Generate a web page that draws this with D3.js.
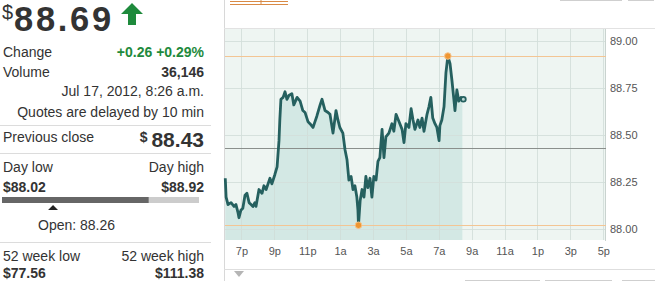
<!DOCTYPE html>
<html>
<head>
<meta charset="utf-8">
<script src="https://cdn.jsdelivr.net/npm/d3@7"></script>
<style>
  body { margin: 0; background: #fff; }
  svg { display: block; font-family: Arial, "Liberation Sans", sans-serif; }
</style>
</head>
<body>
<div id="chart"></div>
<script>
// intraday quotes, Jul 16 6pm -> Jul 17 8:26am
const times = [
  "18:01", "18:04", "18:11", "18:22", "18:33", "18:40", "18:47", "18:51", "18:58", "19:05",
  "19:13", "19:20", "19:28", "19:35", "19:42", "19:49", "19:53", "20:04", "20:15", "20:22",
  "20:30", "20:37", "20:44", "20:51", "21:02", "21:10", "21:17", "21:20", "21:24", "21:32",
  "21:39", "21:46", "21:53", "22:04", "22:11", "22:23", "22:34", "22:44", "22:52", "23:03",
  "23:10", "23:21", "23:28", "23:35", "23:47", "23:54", "00:05", "00:16", "00:23", "00:34",
  "00:45", "00:52", "00:59", "01:10", "01:18", "01:25", "01:32", "01:40", "01:47", "01:54",
  "02:01", "02:05", "02:07", "02:13", "02:20", "02:27", "02:34", "02:41", "02:49", "02:56",
  "03:03", "03:11", "03:18", "03:25", "03:33", "03:40", "03:47", "03:58", "04:09", "04:16",
  "04:24", "04:35", "04:46", "04:53", "05:00", "05:11", "05:19", "05:26", "05:33", "05:44",
  "05:51", "05:59", "06:06", "06:17", "06:24", "06:31", "06:38", "06:46", "06:53", "07:01",
  "07:04", "07:11", "07:19", "07:26", "07:33", "07:41", "07:48", "07:55", "07:59", "08:06",
  "08:13", "08:21", "08:26"
];
const prices = [
  88.27, 88.17, 88.13, 88.14, 88.12, 88.13, 88.09, 88.06, 88.10, 88.11,
  88.18, 88.19, 88.14, 88.13, 88.12, 88.14, 88.12, 88.21, 88.19, 88.23,
  88.21, 88.24, 88.27, 88.24, 88.29, 88.33, 88.47, 88.58, 88.69, 88.70,
  88.73, 88.69, 88.71, 88.72, 88.66, 88.70, 88.68, 88.63, 88.62, 88.57,
  88.56, 88.54, 88.57, 88.60, 88.66, 88.69, 88.63, 88.62, 88.61, 88.51,
  88.63, 88.58, 88.54, 88.51, 88.42, 88.37, 88.26, 88.28, 88.21, 88.23,
  88.17, 88.10, 88.02, 88.15, 88.21, 88.17, 88.28, 88.22, 88.27, 88.17,
  88.28, 88.26, 88.36, 88.38, 88.53, 88.38, 88.49, 88.51, 88.56, 88.52,
  88.61, 88.57, 88.53, 88.46, 88.56, 88.54, 88.64, 88.58, 88.53, 88.58,
  88.54, 88.59, 88.52, 88.61, 88.65, 88.70, 88.59, 88.56, 88.54, 88.47,
  88.55, 88.58, 88.65, 88.83, 88.92, 88.88, 88.79, 88.69, 88.63, 88.74,
  88.68, 88.70, 88.69
];
const priceTicks = [88.00, 88.25, 88.50, 88.75, 89.00];
const tickLabels = ["7p", "9p", "11p", "1a", "3a", "5a", "7a", "9a", "11a", "1p", "3p", "5p"];

const lastPrice = 88.69, prevClose = 88.43, openPrice = 88.26;
const dayLow = 88.02, dayHigh = 88.92;

const W = 671, H = 281;
const dark = "#333", green = "#1e8a3c";

const parse = (s) => {
  const [h, m] = s.split(":").map(Number);
  return new Date(2012, 6, h >= 18 ? 16 : 17, h, m);
};
const data = times.map((t, i) => ({ date: parse(t), price: prices[i] }));

const svg = d3.select("#chart").append("svg")
  .attr("width", W)
  .attr("height", H);

// ---------- left quote panel ----------
const left = svg.append("g");
const rx = 204;

left.append("text").attr("x", 2).attr("y", 19).attr("font-size", 20).attr("fill", dark).text("$");
left.append("text").attr("x", 14).attr("y", 31).attr("font-size", 34.5).attr("font-weight", "bold")
  .attr("fill", dark).attr("letter-spacing", 2.7).text(lastPrice.toFixed(2));
left.append("path")
  .attr("d", "M132,3 L143,14 L136,14 L136,25 L128,25 L128,14 L121,14 Z")
  .attr("fill", green);

function row(y, l, r, opts = {}) {
  if (l) left.append("text").attr("x", opts.lx ?? 3).attr("y", y).attr("font-size", 14)
    .attr("fill", dark).text(l);
  if (r) left.append("text").attr("x", rx).attr("y", y).attr("font-size", 14)
    .attr("text-anchor", "end").attr("font-weight", opts.bold ? "bold" : null)
    .attr("fill", opts.color ?? dark).text(r);
}
function sep(y) {
  left.append("line").attr("x1", 0).attr("x2", 211).attr("y1", y + 0.5).attr("y2", y + 0.5)
    .attr("stroke", "#dcdcdc");
}

row(57, "Change", "+0.26 +0.29%", { bold: true, color: green });
row(77, "Volume", "36,146", { bold: true });
row(96, null, "Jul 17, 2012, 8:26 a.m.");
row(117, null, "Quotes are delayed by 10 min");
sep(125);

row(142, "Previous close", null);
left.append("text").attr("x", rx).attr("y", 147).attr("text-anchor", "end")
  .attr("fill", dark).attr("font-weight", "bold")
  .call((t) => {
    t.append("tspan").attr("font-size", 14).attr("dy", -5).text("$ ");
    t.append("tspan").attr("font-size", 21).attr("dy", 5).text(prevClose.toFixed(2));
  });
sep(153);

row(172, "Day low", "Day high");
left.append("text").attr("x", 3).attr("y", 192).attr("font-size", 14).attr("font-weight", "bold")
  .attr("fill", dark).text("$" + dayLow.toFixed(2));
row(192, null, "$" + dayHigh.toFixed(2), { bold: true });

// day range bar
const rangeX = d3.scaleLinear([dayLow, dayHigh], [2, 199]);
left.append("rect").attr("x", rangeX(dayLow)).attr("y", 197)
  .attr("width", rangeX(dayHigh) - rangeX(dayLow)).attr("height", 6).attr("fill", "#cccccc");
left.append("rect").attr("x", rangeX(dayLow)).attr("y", 197)
  .attr("width", rangeX(lastPrice) - rangeX(dayLow)).attr("height", 6).attr("fill", "#666666");
const ox = rangeX(openPrice) - 1.5;
left.append("path").attr("d", `M${ox - 5},210 L${ox + 5},210 L${ox},205 Z`).attr("fill", "#222");
row(230, "Open: " + openPrice.toFixed(2), null, { lx: 38 });
sep(242);

row(261, "52 week low", "52 week high");
left.append("text").attr("x", 3).attr("y", 278).attr("font-size", 14).attr("font-weight", "bold")
  .attr("fill", dark).text("$77.56");
row(278, null, "$111.38", { bold: true });

// ---------- chart panel frame ----------
const frame = svg.append("g");
frame.append("line").attr("x1", 224.5).attr("x2", 224.5).attr("y1", 0).attr("y2", H).attr("stroke", "#d8d8d8");
frame.append("line").attr("x1", 224).attr("x2", 655).attr("y1", 28.5).attr("y2", 28.5).attr("stroke", "#e2e2e2");
frame.append("line").attr("x1", 224).attr("x2", 655).attr("y1", 269.5).attr("y2", 269.5).attr("stroke", "#dedede");
frame.append("path").attr("d", "M234,271 L244,271 L239,277 Z").attr("fill", "#b5b5b5");
// cut off legend swatch and buttons
frame.append("path").attr("d", "M230,1.5 H288 M230,4.5 H288 M261,0 V4").attr("stroke", "#d98a45").attr("fill", "none");
frame.selectAll(".btnTop").data([[560, 622], [628, 654]]).join("line")
  .attr("x1", (d) => d[0]).attr("x2", (d) => d[1]).attr("y1", 0.5).attr("y2", 0.5).attr("stroke", "#cfcfcf");
frame.selectAll(".btnBot").data([[465, 540], [545, 612], [622, 655]]).join("line")
  .attr("x1", (d) => d[0]).attr("x2", (d) => d[1]).attr("y1", 280.5).attr("y2", 280.5).attr("stroke", "#cfcfcf");

// ---------- price chart ----------
const plot = { left: 225, right: 606, top: 29, bottom: 240 };
const x = d3.scaleTime([new Date(2012, 6, 16, 18, 0), new Date(2012, 6, 17, 17, 10)], [plot.left, plot.right]);
const y = d3.scaleLinear([88, 89], [229, 41]);

const g = svg.append("g");
g.append("rect").attr("x", plot.left).attr("y", plot.top)
  .attr("width", plot.right - plot.left).attr("height", plot.bottom - plot.top).attr("fill", "#eef5f2");

const area = d3.area().x((d) => x(d.date)).y0(plot.bottom).y1((d) => y(d.price));
g.append("path").datum(data).attr("d", area).attr("fill", "#d3e8e4");

// every other hour, starting at 7p
const hourTicks = d3.timeHour.range(new Date(2012, 6, 16, 19), new Date(2012, 6, 17, 17, 1), 2);

// grid
g.append("g").selectAll("line").data(hourTicks).join("line")
  .attr("x1", (d) => Math.round(x(d)) + 0.5).attr("x2", (d) => Math.round(x(d)) + 0.5)
  .attr("y1", plot.top).attr("y2", plot.bottom)
  .attr("stroke", "#cfdcd7").attr("stroke-opacity", 0.8);
g.append("g").selectAll("line").data(priceTicks).join("line")
  .attr("x1", plot.left).attr("x2", plot.right)
  .attr("y1", (d) => Math.round(y(d)) + 0.5).attr("y2", (d) => Math.round(y(d)) + 0.5)
  .attr("stroke", "#d3dfda").attr("stroke-opacity", 0.9);
g.append("line").attr("x1", plot.right - 0.5).attr("x2", plot.right - 0.5)
  .attr("y1", plot.top).attr("y2", plot.bottom + 1).attr("stroke", "#c9d3cf");

// previous close, day high / low
g.append("line").attr("x1", plot.left).attr("x2", plot.right)
  .attr("y1", Math.round(y(prevClose)) + 0.5).attr("y2", Math.round(y(prevClose)) + 0.5)
  .attr("stroke", "#8a8f8c");
g.selectAll(".hl").data([dayHigh, dayLow]).join("line")
  .attr("x1", plot.left).attr("x2", plot.right)
  .attr("y1", (d) => Math.round(y(d)) + 0.5).attr("y2", (d) => Math.round(y(d)) + 0.5)
  .attr("stroke", "#f3c594");

const line = d3.line().x((d) => x(d.date)).y((d) => y(d.price));
g.append("path").datum(data).attr("d", line)
  .attr("fill", "none").attr("stroke", "#25605f").attr("stroke-width", 2.8)
  .attr("stroke-linejoin", "round");

// high / low markers
const lo = data[d3.minIndex(data, (d) => d.price)];
const hi = data[d3.maxIndex(data, (d) => d.price)];
g.selectAll(".mk").data([lo, hi]).join("circle")
  .attr("cx", (d) => x(d.date)).attr("cy", (d) => y(d.price)).attr("r", 3.3)
  .attr("fill", "#ef9632").attr("stroke", "#f6c58e").attr("stroke-width", 1);
const last = data[data.length - 1];
g.append("circle").attr("cx", x(last.date) + 1).attr("cy", y(last.price)).attr("r", 2.4)
  .attr("fill", "#bcd9d5").attr("stroke", "#25605f").attr("stroke-width", 1.8);

// axes labels
const xAxis = g.append("g")
  .attr("transform", `translate(0,${plot.bottom})`)
  .call(d3.axisBottom(x).tickValues(hourTicks).tickSize(0).tickPadding(7)
    .tickFormat((d, i) => tickLabels[i]));
xAxis.select(".domain").remove();
xAxis.selectAll("text").attr("font-size", 11).attr("fill", "#555").attr("font-family", "Arial, 'Liberation Sans', sans-serif");

const yAxis = g.append("g")
  .attr("transform", `translate(${plot.right + 3},0)`)
  .call(d3.axisRight(y).tickValues(priceTicks).tickSize(0).tickPadding(1).tickFormat(d3.format(".2f")));
yAxis.select(".domain").remove();
yAxis.selectAll("text").attr("font-size", 11).attr("fill", "#555").attr("font-family", "Arial, 'Liberation Sans', sans-serif");
</script>
</body>
</html>
